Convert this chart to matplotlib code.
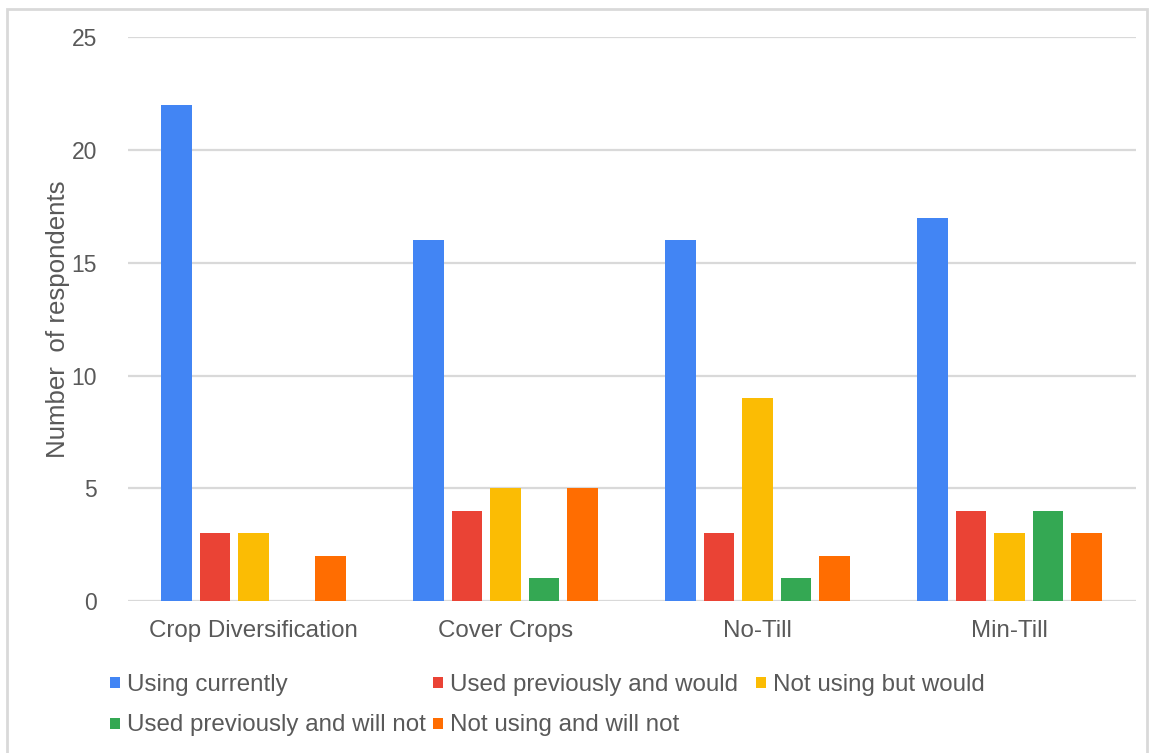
import matplotlib
matplotlib.use("Agg")
import matplotlib.pyplot as plt
from matplotlib.patches import Rectangle
import numpy as np

plt.rcParams['font.family'] = ['Liberation Sans', 'DejaVu Sans']

categories = ["Crop Diversification", "Cover Crops", "No-Till", "Min-Till"]
series_names = ["Using currently", "Used previously and would", "Not using but would",
                "Used previously and will not", "Not using and will not"]
using_currently = [22, 16, 16, 17]
used_prev_would = [3, 4, 3, 4]
not_using_would = [3, 5, 9, 3]
used_prev_will_not = [0, 1, 1, 4]
not_using_will_not = [2, 5, 2, 3]
y_ticks = [0, 5, 10, 15, 20, 25]

series = [using_currently, used_prev_would, not_using_would, used_prev_will_not, not_using_will_not]
colors = ["#4285F4", "#EA4335", "#FBBC04", "#34A853", "#FF6D01"]
text_color = "#595959"

W, H = 1154, 753
fig = plt.figure(figsize=(W / 100, H / 100), dpi=100)

# frame around the chart
fig.patches.append(Rectangle((7 / W, -0.05), (1147 - 7) / W, 1 - 9 / H + 0.05,
                             transform=fig.transFigure, fill=False,
                             edgecolor="#d9d9d9", linewidth=2))

ax = fig.add_axes([127.5 / W, 1 - 601 / H, (1135.5 - 127.5) / W, (601 - 37.3) / H])
x = np.arange(len(categories))
slot = 0.153
bw = 0.121
for i, (vals, c) in enumerate(zip(series, colors)):
    ax.bar(x + (i - 2) * slot, vals, width=bw, color=c, zorder=3, label=series_names[i])

ax.set_xlim(-0.5, len(categories) - 0.5)
ax.set_ylim(0, 25)
ax.set_yticks(y_ticks)
ax.set_yticklabels([str(t) for t in y_ticks])
ax.set_xticks(x)
ax.set_xticklabels(categories)
ax.grid(axis='y', color="#d9d9d9", linewidth=1.6, zorder=0)
ax.set_axisbelow(True)
for s in ax.spines.values():
    s.set_visible(False)
ax.tick_params(axis='y', length=0, pad=22, labelsize=16.5, labelcolor=text_color)
ax.tick_params(axis='x', length=0, pad=14, labelsize=17.4, labelcolor=text_color)

fig.text(58 / W, 1 - 319 / H, "Number  of respondents", rotation=90, ha='center', va='center',
         fontsize=18.6, color=text_color)

# legend (flow layout like the source)
leg_pos = [(110, 682), (433, 682), (756, 682), (110, 723), (433, 723)]
for (px, py), name, c in zip(leg_pos, series_names, colors):
    fig.patches.append(Rectangle((px / W, 1 - (py + 5.5) / H), 10 / W, 11 / H,
                                 transform=fig.transFigure, facecolor=c, edgecolor='none'))
    fig.text((px + 17) / W, 1 - py / H, name, ha='left', va='center_baseline',
             fontsize=17.4, color=text_color)

fig.savefig("out.png", dpi=100, facecolor="white")
